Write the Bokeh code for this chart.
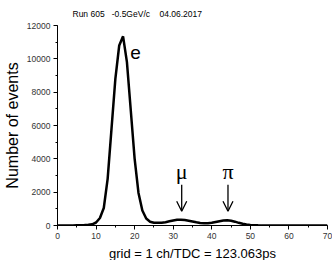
from bokeh.plotting import figure
from bokeh.models import Range1d, SingleIntervalTicker, Label, Arrow, OpenHead
from bokeh.embed import file_html
from bokeh.resources import INLINE

channels = list(range(0, 71))
counts = [0, 0, 0, 0, 5, 10, 15, 25, 40, 70,
          180, 450, 1050, 2800, 5800, 8800, 10800, 11350, 9800, 6900,
          4000, 1950, 900, 420, 230, 170, 160, 170, 200, 250,
          300, 340, 350, 330, 290, 240, 190, 150, 130, 130,
          160, 210, 260, 300, 320, 290, 230, 160, 100, 60,
          35, 20, 10, 5, 0, 0, 0, 0, 0, 0,
          0, 0, 0, 0, 0, 0, 0, 0, 0, 0, 0]

title_text = "Run 605\u00a0\u00a0\u00a0-0.5GeV/c\u00a0\u00a0\u00a0\u00a004.06.2017"
x_label = "grid = 1 ch/TDC = 123.063ps"
y_label = "Number of events"
peak_labels = ["e", "\u03bc", "\u03c0"]
peak_label_x = [20.2, 32.2, 44.2]
peak_label_y = [10400, 3250, 3250]

p = figure(width=332, height=260, output_backend="svg", toolbar_location=None,
           x_range=Range1d(0, 70), y_range=Range1d(0, 12000),
           frame_width=270, frame_height=200,
           min_border_left=57, min_border_right=5, min_border_top=25, min_border_bottom=5)
p.outline_line_color = None
p.grid.visible = False
p.background_fill_color = "white"

p.title.text = title_text
p.title.text_font = "Liberation Sans"
p.title.text_font_size = "8.5px"
p.title.text_font_style = "normal"
p.title.text_color = "black"
p.title.align = "left"
p.title.offset = 15
p.title.standoff = 13

p.line(channels, counts, line_color="black", line_width=2.5)

for ax in (p.xaxis[0], p.yaxis[0]):
    ax.major_label_text_font = "Liberation Sans"
    ax.major_label_text_font_size = "8.5px"
    ax.major_label_text_color = "#333333"
    ax.major_label_standoff = 3
    ax.axis_label_text_font = "Liberation Sans"
    ax.axis_label_text_font_style = "normal"
    ax.axis_label_text_color = "black"
    ax.axis_line_color = "black"
    ax.major_tick_line_color = "black"
    ax.minor_tick_line_color = "black"
    ax.major_tick_out = 4
    ax.major_tick_in = 0
    ax.minor_tick_out = 2
    ax.minor_tick_in = 0

p.xaxis[0].ticker = SingleIntervalTicker(interval=10, num_minor_ticks=2)
p.yaxis[0].ticker = SingleIntervalTicker(interval=2000, num_minor_ticks=2)
p.xaxis[0].axis_label = x_label
p.xaxis[0].axis_label_text_font_size = "13px"
p.xaxis[0].axis_label_standoff = 4
p.yaxis[0].axis_label = y_label
p.yaxis[0].axis_label_text_font_size = "16px"
p.yaxis[0].axis_label_standoff = 3

fonts = ["Liberation Sans", "Liberation Serif", "Liberation Serif"]
sizes = ["19px", "22px", "22px"]
for t, lx, ly, f, s in zip(peak_labels, peak_label_x, peak_label_y, fonts, sizes):
    p.add_layout(Label(x=lx, y=ly, text=t, text_font=f, text_font_size=s,
                       text_color="black",
                       text_align="center", text_baseline="middle"))

for ax_x in peak_label_x[1:]:
    p.add_layout(Arrow(x_start=ax_x, y_start=2450, x_end=ax_x, y_end=850,
                       line_width=1.3, line_color="black",
                       end=OpenHead(size=10, line_width=1.3, line_color="black")))

open("out.html", "w").write(file_html(p, INLINE))
